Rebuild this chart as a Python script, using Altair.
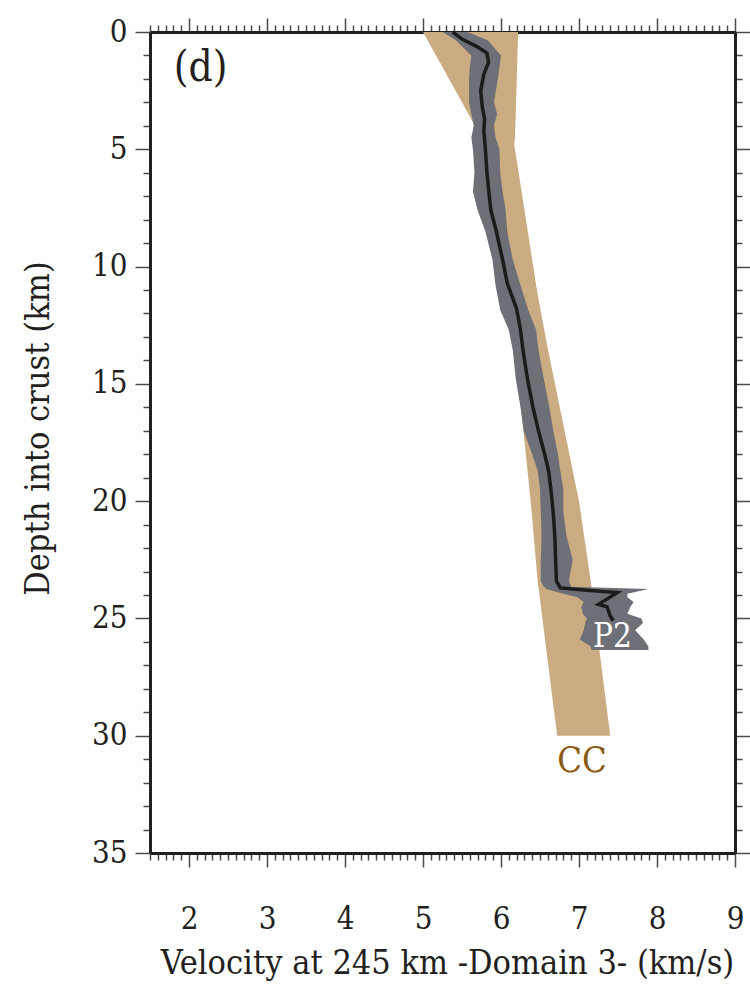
import altair as alt
import pandas as pd

# ---- data ----
# CC reference band (depth km, lower / upper velocity km/s)
cc_depth = [0, 4.5, 4.8, 8, 11, 13.5, 14.8, 20, 23.4, 30]
cc_lo = [5.0, 5.75, 5.78, 5.85, 6.02, 6.16, 6.22, 6.38, 6.47, 6.72]
cc_hi = [6.22, 6.18, 6.17, 6.32, 6.46, 6.60, 6.68, 7.0, 7.15, 7.4]

# grey uncertainty envelope
env_depth = [0, 0.35, 1.0, 1.5, 2.0, 3.0, 3.5, 4.0, 4.5, 5.0, 6.0, 6.8, 7.6, 8.5,
             9.7, 10.8, 11.85, 12.7, 13.55, 14.8, 16.0, 17.0, 18.0, 18.7, 19.5,
             20.5, 21.5, 22.5, 23.4, 23.65, 23.75, 23.95, 24.1, 24.3, 24.5, 24.8,
             25.0, 25.2, 25.5, 25.9, 26.2, 26.35]
env_lo = [5.25, 5.42, 5.62, 5.60, 5.59, 5.59, 5.62, 5.65, 5.62, 5.64, 5.66, 5.64,
          5.70, 5.80, 5.89, 5.93, 5.99, 6.10, 6.15, 6.19, 6.25, 6.29, 6.40, 6.47,
          6.50, 6.51, 6.52, 6.51, 6.51, 6.55, 6.58, 6.80, 6.98, 7.06, 7.03, 7.05,
          7.10, 7.08, 7.06, 7.01, 7.15, 7.16]
env_hi = [5.57, 5.83, 6.00, 5.98, 5.96, 5.91, 5.95, 5.91, 5.93, 5.98, 5.99, 6.02,
          6.06, 6.08, 6.15, 6.25, 6.35, 6.45, 6.48, 6.55, 6.62, 6.67, 6.73, 6.76,
          6.80, 6.80, 6.84, 6.92, 6.87, 6.90, 7.89, 7.62, 7.62, 7.70, 7.66, 7.62,
          7.80, 7.82, 7.72, 7.83, 7.89, 7.89]

# mean velocity profile (path order)
vel_depth = [0, 0.3, 0.6, 0.9, 1.3, 1.8, 2.5, 3.2, 3.7, 4.2, 5.0, 6.0, 7.0, 7.6,
             8.5, 9.7, 10.7, 11.8, 12.7, 13.5, 14.8, 16.0, 17.0, 18.0, 18.7, 19.5,
             20.5, 21.5, 22.5, 23.4, 23.7, 23.8, 23.9, 24.4, 24.5, 24.9, 25.1]
vel_vp = [5.38, 5.50, 5.68, 5.82, 5.84, 5.78, 5.74, 5.76, 5.79, 5.78, 5.80, 5.82,
          5.85, 5.87, 5.94, 6.02, 6.08, 6.20, 6.25, 6.28, 6.34, 6.41, 6.48, 6.56,
          6.61, 6.64, 6.67, 6.69, 6.70, 6.71, 6.76, 7.10, 7.49, 7.25, 7.36, 7.40,
          7.44]

x_ticks = [round(1.5 + 0.1 * i, 1) for i in range(76)]
y_ticks = list(range(0, 36))

cc_df = pd.DataFrame({"depth": cc_depth, "lo": cc_lo, "hi": cc_hi})
env_df = pd.DataFrame({"depth": env_depth, "lo": env_lo, "hi": env_hi})
vel_df = pd.DataFrame({"depth": vel_depth, "vp": vel_vp, "i": list(range(len(vel_depth)))})

FONT = "DejaVu Serif Condensed"
INK = "#231f20"

xs = alt.Scale(domain=[1.5, 9], nice=False, zero=False)
ys = alt.Scale(domain=[0, 35], reverse=True, nice=False, zero=False)

is_int = "abs(datum.value - round(datum.value)) < 0.001"
is_five = "abs(datum.value / 5 - round(datum.value / 5)) < 0.001"

common_axis = dict(
    domainColor=INK, domainWidth=3, tickColor="#4a4a4a", tickWidth=1.5,
    labelFont=FONT, labelFontSize=31, labelColor=INK, labelOverlap=False,
    labelBound=False, labelFlush=False, grid=False,
    titleFont=FONT, titleFontSize=34, titleFontWeight="normal", titleColor=INK,
)

x_bottom = alt.Axis(
    orient="bottom", values=x_ticks,
    tickSize={"condition": {"test": is_int, "value": 14}, "value": 7},
    labelExpr=f"{is_int} ? format(datum.value, 'd') : ''",
    labelPadding=37,
    title="Velocity at 245 km -Domain 3- (km/s)",
    titleX=297, titleY=110, titleBaseline="middle", titleAlign="center",
    **common_axis,
)
x_top = alt.Axis(
    orient="top", values=x_ticks,
    tickSize={"condition": {"test": is_int, "value": 14}, "value": 7},
    labels=False, title=None, **common_axis,
)
y_left = alt.Axis(
    orient="left", values=y_ticks,
    tickSize={"condition": {"test": is_five, "value": 15}, "value": 7},
    labelExpr=f"{is_five} ? format(datum.value, 'd') : ''",
    labelPadding=8,
    title="Depth into crust (km)",
    titleX=-112, titleY=396, titleAngle=-90, titleBaseline="middle", titleAlign="center",
    **common_axis,
)
y_right = alt.Axis(
    orient="right", values=y_ticks,
    tickSize={"condition": {"test": is_five, "value": 15}, "value": 7},
    labels=False, title=None, **common_axis,
)

cc_band = alt.Chart(cc_df).mark_area(orient="horizontal", color="#cbac82", opacity=1).encode(
    y=alt.Y("depth:Q", scale=ys, axis=y_left),
    x=alt.X("lo:Q", scale=xs, axis=x_bottom),
    x2="hi:Q",
)

env_band = alt.Chart(env_df).mark_area(orient="horizontal", color="#6d7076", opacity=1).encode(
    y=alt.Y("depth:Q", scale=ys, axis=None),
    x=alt.X("lo:Q", scale=xs, axis=None),
    x2="hi:Q",
)

vel_line = alt.Chart(vel_df).mark_line(color="#1b1b1b", strokeWidth=3.5, strokeJoin="miter").encode(
    y=alt.Y("depth:Q", scale=ys, axis=None),
    x=alt.X("vp:Q", scale=xs, axis=None),
    order="i:Q",
)

lab_d = alt.Chart(pd.DataFrame({"t": ["(d)"], "x": [2.15], "y": [2.1]})).mark_text(
    font=FONT, fontSize=42, color=INK, align="center", baseline="alphabetic"
).encode(
    x=alt.X("x:Q", scale=xs, axis=x_top),
    y=alt.Y("y:Q", scale=ys, axis=y_right),
    text="t:N",
)

lab_p2 = alt.Chart(pd.DataFrame({"t": ["P2"], "x": [7.43], "y": [26.2]})).mark_text(
    font=FONT, fontSize=33, color="white", align="center", baseline="alphabetic"
).encode(
    x=alt.X("x:Q", scale=xs, axis=None),
    y=alt.Y("y:Q", scale=ys, axis=None),
    text="t:N",
)

lab_cc = alt.Chart(pd.DataFrame({"t": ["CC"], "x": [7.04], "y": [31.55]})).mark_text(
    font=FONT, fontSize=36, color="#8b5a14", align="center", baseline="alphabetic"
).encode(
    x=alt.X("x:Q", scale=xs, axis=None),
    y=alt.Y("y:Q", scale=ys, axis=None),
    text="t:N",
)

chart = alt.layer(cc_band, env_band, vel_line, lab_p2, lab_cc, lab_d).properties(
    width=585, height=821,
    autosize=alt.AutoSizeParams(type="none"),
    padding={"left": 150, "top": 32, "right": 15, "bottom": 131},
    background="white",
).configure_view(stroke=None)

chart.save("out.html", embed_options={"renderer": "svg", "actions": False})
